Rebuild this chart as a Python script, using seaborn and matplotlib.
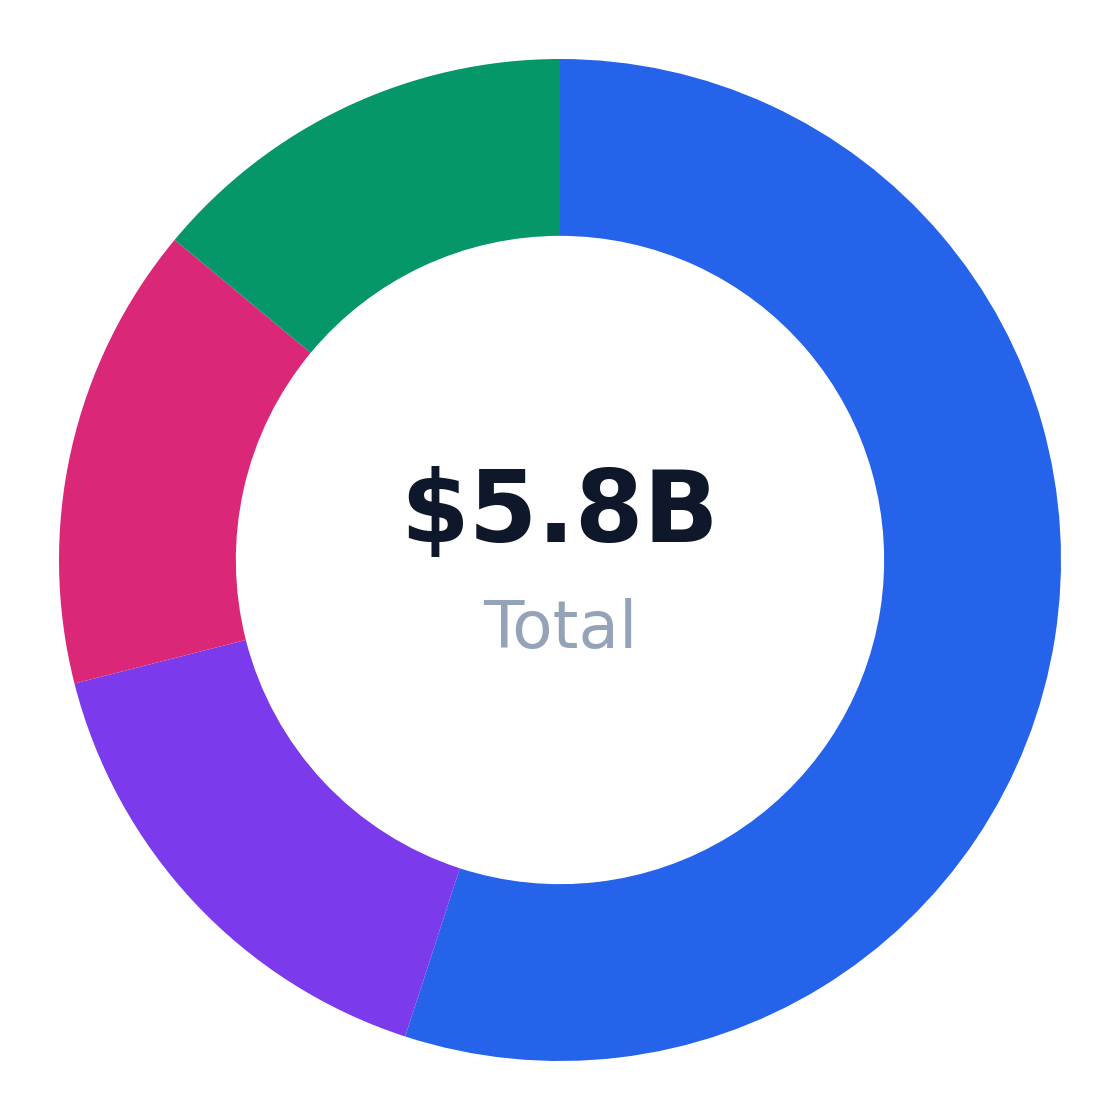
import matplotlib

matplotlib.use("Agg")

import matplotlib.pyplot as plt
import seaborn as sns

# segment values in $B, clockwise from 12 o'clock
segments = ["A", "B", "C", "D"]
values = [3.19, 0.93, 0.87, 0.81]
colors = ["#2563EB", "#7C3AED", "#DB2777", "#059669"]
total_label = "$5.8B"
sub_label = "Total"

sns.set_theme(style="white")
plt.rcParams["font.family"] = ["DejaVu Sans"]
plt.rcParams["path.simplify"] = False

fig = plt.figure(figsize=(11.2, 11.2), dpi=100)
ax = fig.add_axes([0, 0, 1, 1])

wedges, _ = ax.pie(
    values,
    colors=colors,
    startangle=90,
    counterclock=False,
    radius=1.0,
    wedgeprops=dict(width=0.353, edgecolor="none", linewidth=0),
)

ax.text(0, 0.036, total_label, ha="center", va="baseline",
        fontsize=71, fontweight="bold", color="#0F172A")
ax.text(0, -0.176, sub_label, ha="center", va="baseline",
        fontsize=47.5, color="#94A3B8")

lim = 560 / 501
ax.set_xlim(-lim, lim)
ax.set_ylim(-lim, lim)
ax.set_aspect("equal")
ax.axis("off")

fig.savefig("out.png", dpi=100, facecolor="white")
plt.close(fig)
